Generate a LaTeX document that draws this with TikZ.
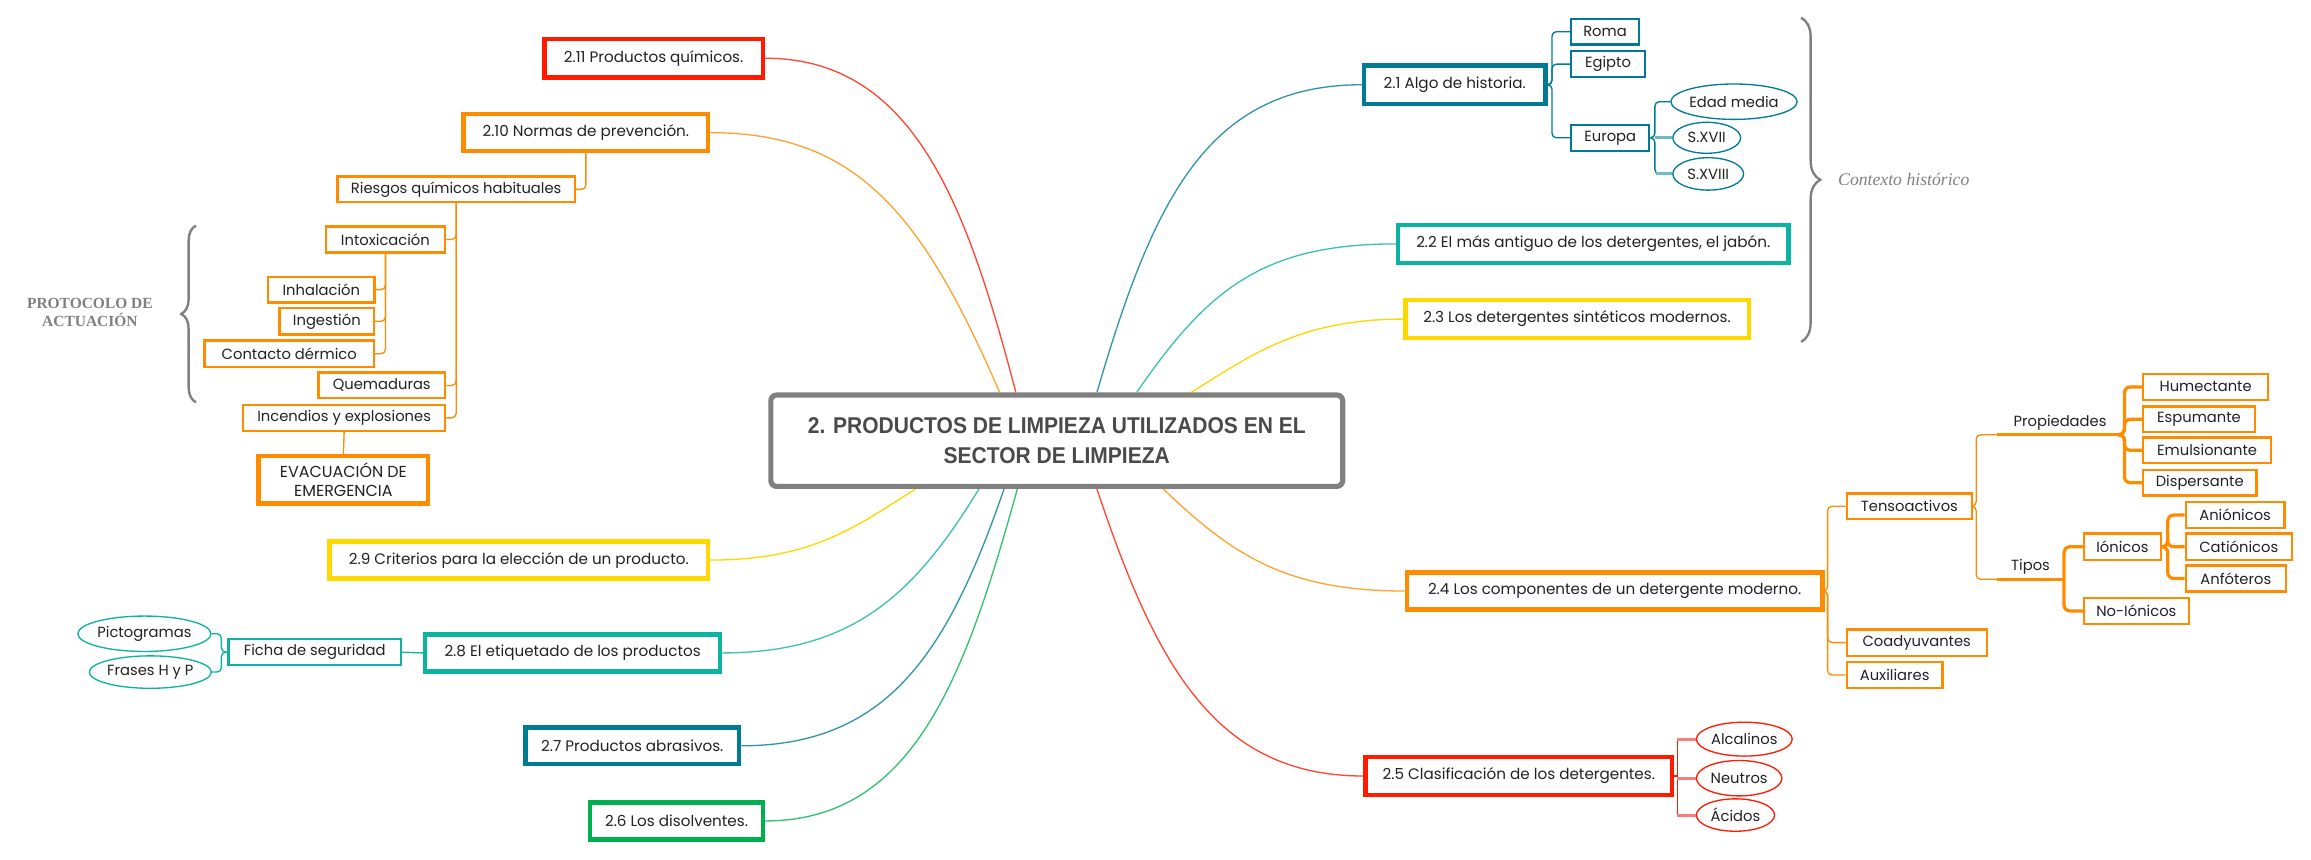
\documentclass[tikz,border=0pt]{standalone}
\usepackage{fontspec}
\setmainfont{Poppins}
\newfontfamily\rootfont{Liberation Sans}[FakeStretch=0.92]
\newfontfamily\serifx{Liberation Serif}
\usetikzlibrary{decorations.pathreplacing,shapes.geometric,backgrounds}
\definecolor{cred}{HTML}{FF1A00}
\definecolor{cora}{HTML}{FF8C00}
\definecolor{cyel}{HTML}{FFD800}
\definecolor{cteal}{HTML}{0BB3A0}
\definecolor{cblue}{HTML}{007B93}
\definecolor{cgreen}{HTML}{00B050}
\definecolor{cgray}{HTML}{808080}
\definecolor{ctext}{HTML}{222222}
\definecolor{croot}{HTML}{4A4A4A}
\definecolor{csalmon}{HTML}{F47F7F}
\definecolor{clblue}{HTML}{6FB9C8}
\begin{document}
\begin{tikzpicture}[x=1pt,y=-1pt,
  txt/.style={text=ctext, font=\fontsize{10.3}{12}\selectfont, inner sep=0pt, align=center},
  mainbox/.style={txt, draw=#1, line width=3pt, fill=white},
  subbox/.style={txt, draw=#1, line width=1.6pt, fill=white, font=\fontsize{10}{11}\selectfont},
  ovalbox/.style={txt, draw=#1, line width=0.9pt, ellipse, fill=white, font=\fontsize{10}{11}\selectfont},
  curve/.style={draw=#1, line width=0.9pt},
  elbow/.style={draw=#1, line width=0.9pt, rounded corners=3pt},
  thickelbow/.style={draw=#1, line width=2.2pt, rounded corners=4pt},
  bracex/.style={draw=cgray, line width=1.6pt, decorate, decoration={brace, amplitude=#1}}
]
\useasboundingbox (0,0) rectangle (1568,583);

% ---------- root ----------
\node[draw=cgray, line width=3.5pt, rounded corners=4pt, fill=white,
      minimum width=388pt, minimum height=62pt, inner sep=0pt, align=center,
      text=croot, font=\rootfont\bfseries\fontsize{15.5}{20}\selectfont] (root) at (717,299)
      {2. PRODUCTOS DE LIMPIEZA UTILIZADOS EN EL\\SECTOR DE LIMPIEZA};

% ---------- main branches ----------
\node[mainbox=cred, minimum width=148pt, minimum height=26pt] (b11) at (443.5,39.5) {2.11 Productos químicos.};
\node[mainbox=cora, minimum width=166pt, minimum height=25pt] (b10) at (397.5,90) {2.10 Normas de prevención.};
\node[mainbox=cyel, minimum width=257pt, minimum height=25pt] (b9) at (352,380) {2.9 Criterios para la elección de un producto.};
\node[mainbox=cteal, minimum width=200pt, minimum height=25pt] (b8) at (388.5,443) {2.8 El etiquetado de los productos};
\node[mainbox=cblue, minimum width=145pt, minimum height=25pt] (b7) at (429,506) {2.7 Productos abrasivos.};
\node[mainbox=cgreen, minimum width=117pt, minimum height=25pt] (b6) at (459,557) {2.6 Los disolventes.};
\node[mainbox=cblue, minimum width=123pt, minimum height=26pt] (b1) at (987,57.5) {2.1 Algo de historia.};
\node[mainbox=cteal, minimum width=265pt, minimum height=26pt] (b2) at (1081,165.5) {2.2 El más antiguo de los detergentes, el jabón.};
\node[mainbox=cyel, minimum width=233pt, minimum height=26pt] (b3) at (1070,216.5) {2.3 Los detergentes sintéticos modernos.};
\node[mainbox=cora, minimum width=282pt, minimum height=25pt] (b4) at (1095.5,401) {2.4 Los componentes de un detergente moderno.};
\node[mainbox=cred, minimum width=208pt, minimum height=26pt] (b5) at (1030.5,526.5) {2.5 Clasificación de los detergentes.};

% ---------- left sub topics ----------
\node[subbox=cora, minimum width=161pt, minimum height=17.5pt] (riesgos) at (309.5,128.5) {Riesgos químicos habituales};
\node[subbox=cora, minimum width=81pt, minimum height=17.5pt] (intox) at (261.5,162.5) {Intoxicación};
\node[subbox=cora, minimum width=72pt, minimum height=17.5pt] (inhal) at (218,196.5) {Inhalación};
\node[subbox=cora, minimum width=64pt, minimum height=18pt] (ingest) at (221.75,218) {Ingestión};
\node[subbox=cora, minimum width=115pt, minimum height=18pt] (contacto) at (196.25,240) {Contacto dérmico};
\node[subbox=cora, minimum width=86pt, minimum height=17.5pt] (quem) at (259,261.5) {Quemaduras};
\node[subbox=cora, minimum width=137pt, minimum height=17.5pt] (incend) at (233.5,283.5) {Incendios y explosiones};
\node[mainbox=cora, minimum width=115pt, minimum height=32pt, font=\fontsize{10.8}{13}\selectfont] (evac) at (233,325.5) {EVACUACIÓN DE\\EMERGENCIA};
\node[subbox=cteal, minimum width=117pt, minimum height=17.5pt] (ficha) at (213.5,442.5) {Ficha de seguridad};
\node[ovalbox=cteal, minimum width=86pt, minimum height=24pt] (picto) at (98,430) {Pictogramas};
\node[ovalbox=cteal, minimum width=77pt, minimum height=22pt] (frases) at (102,456) {Frases H y P};

% ---------- right sub topics ----------
\node[subbox=cblue, minimum width=46pt, minimum height=17.5pt] (roma) at (1089,21.5) {Roma};
\node[subbox=cblue, minimum width=50pt, minimum height=17.5pt] (egipto) at (1091,43.5) {Egipto};
\node[subbox=cblue, minimum width=53pt, minimum height=17.5pt] (europa) at (1092.5,93.5) {Europa};
\node[ovalbox=cblue, minimum width=83pt, minimum height=24pt] (edad) at (1176.5,69) {Edad media};
\node[ovalbox=cblue, minimum width=46pt, minimum height=21pt] (sxvii) at (1158,93.5) {S.XVII};
\node[ovalbox=cblue, minimum width=48pt, minimum height=22pt] (sxviii) at (1159,118) {S.XVIII};

\node[subbox=cora, minimum width=85pt, minimum height=17.5pt] (tenso) at (1295.5,343.5) {Tensoactivos};
\node[subbox=cora, minimum width=95pt, minimum height=18pt] (coad) at (1300.5,436) {Coadyuvantes};
\node[subbox=cora, minimum width=65pt, minimum height=17.5pt] (aux) at (1285.5,458) {Auxiliares};
\node[txt, font=\fontsize{10}{11}\selectfont, anchor=south west, minimum width=85pt, minimum height=16pt] (prop) at (1355,295) {Propiedades};
\node[txt, font=\fontsize{10}{11}\selectfont, anchor=south west, minimum width=45pt, minimum height=16pt] (tipos) at (1355,393) {Tipos};
\node[subbox=cora, minimum width=85pt, minimum height=17.5pt] (humect) at (1496.5,262.5) {Humectante};
\node[subbox=cora, minimum width=76pt, minimum height=17.5pt] (espum) at (1492,284.5) {Espumante};
\node[subbox=cora, minimum width=87pt, minimum height=17.5pt] (emuls) at (1497.5,305.5) {Emulsionante};
\node[subbox=cora, minimum width=77pt, minimum height=17.5pt] (disper) at (1492.5,327.5) {Dispersante};
\node[subbox=cora, minimum width=52pt, minimum height=18pt] (ionicos) at (1440,371) {Iónicos};
\node[subbox=cora, minimum width=71pt, minimum height=17.5pt] (noion) at (1449.5,414.5) {No-Iónicos};
\node[subbox=cora, minimum width=67pt, minimum height=17.5pt] (anion) at (1516.5,349.5) {Aniónicos};
\node[subbox=cora, minimum width=72pt, minimum height=18pt] (cation) at (1519,371) {Catiónicos};
\node[subbox=cora, minimum width=68pt, minimum height=17.5pt] (anfot) at (1517,392.5) {Anfóteros};

\node[ovalbox=cred, minimum width=65pt, minimum height=23pt] (alcal) at (1183.5,501.5) {Alcalinos};
\node[ovalbox=cred, minimum width=58pt, minimum height=24pt] (neutros) at (1180,528) {Neutros};
\node[ovalbox=cred, minimum width=53pt, minimum height=22pt] (acidos) at (1177.5,553) {Ácidos};

% ---------- annotations ----------
\node[text=cgray, align=center, inner sep=0pt, font=\serifx\bfseries\fontsize{10.5}{12.5}\selectfont] (prot) at (61,212) {PROTOCOLO DE\\ACTUACIÓN};
\node[text=cgray, anchor=west, inner sep=0pt, font=\serifx\itshape\fontsize{12}{14}\selectfont] (ctx) at (1247,122) {Contexto histórico};
\coordinate (lbtop) at (133,153);
\coordinate (lbbot) at (133,273);
\coordinate (rbtop) at (1222,12);
\coordinate (rbbot) at (1222,232);

% ---------- connectors (behind) ----------
\begin{scope}[on background layer]
\fill[white] (0,0) rectangle (1568,583);
\draw[bracex=10pt] (lbbot) -- (lbtop);
\draw[bracex=13pt] (rbtop) -- (rbbot);

\coordinate (e10) at ([xshift=157pt]root.north west);
\coordinate (e11) at ([xshift=168pt]root.north west);
\coordinate (e1) at ([xshift=223pt]root.north west);
\coordinate (e2) at ([xshift=250pt]root.north west);
\coordinate (e3) at ([xshift=287pt]root.north west);
\coordinate (s9) at ([xshift=100pt]root.south west);
\coordinate (s8) at ([xshift=143pt]root.south west);
\coordinate (s7) at ([xshift=160pt]root.south west);
\coordinate (s6) at ([xshift=169pt]root.south west);
\coordinate (s5) at ([xshift=223pt]root.south west);
\coordinate (s4) at ([xshift=268pt]root.south west);

\draw[curve=cred!80] (b11.east) .. controls +(100,0) and +(-34,-130) .. (e11);
\draw[curve=cora!80] (b10.east) .. controls +(100,0) and +(-52,-120) .. (e10);
\draw[curve=cblue!80] (b1.west) .. controls +(-105,0) and +(38,-130) .. (e1);
\draw[curve=cteal!80] (b2.west) .. controls +(-90,0) and +(48,-70) .. (e2);
\draw[curve=cyel] (b3.west) .. controls +(-70,0) and +(40,-25) .. (e3);
\draw[curve=cyel] (b9.east) .. controls +(70,0) and +(-40,25) .. (s9);
\draw[curve=cteal!80] (b8.east) .. controls +(90,0) and +(-43,70) .. (s8);
\draw[curve=cblue!80] (b7.east) .. controls +(100,0) and +(-38,110) .. (s7);
\draw[curve=cgreen!80] (b6.east) .. controls +(100,0) and +(-36,130) .. (s6);
\draw[curve=cred!80] (b5.west) .. controls +(-100,0) and +(40,120) .. (s5);
\draw[curve=cora!80] (b4.west) .. controls +(-80,0) and +(47,45) .. (s4);

% left groups
\draw[elbow=cora] (b10.south) |- (riesgos.east);
\draw[elbow=cora] (riesgos.south) |- (intox.east);
\draw[elbow=cora] (riesgos.south) |- (quem.east);
\draw[elbow=cora] (riesgos.south) |- (incend.east);
\draw[elbow=cora] (intox.south) |- (inhal.east);
\draw[elbow=cora] (intox.south) |- (ingest.east);
\draw[elbow=cora] (intox.south) |- (contacto.east);
\draw[elbow=cora] (incend.south) -- (evac.north);
\draw[elbow=cteal] (ficha.east) -- (b8.west);
\coordinate (jf) at ([xshift=-4pt]ficha.west);
\draw[elbow=cteal] (ficha.west) -- (jf) |- (picto.east);
\draw[elbow=cteal] (ficha.west) -- (jf) |- (frases.east);

% right groups
\coordinate (j1) at ([xshift=3pt]b1.east);
\draw[elbow=cblue] (b1.east) -- (j1) |- (roma.west);
\draw[elbow=cblue] (b1.east) -- (j1) |- (egipto.west);
\draw[elbow=cblue] (b1.east) -- (j1) |- (europa.west);
\coordinate (je) at ([xshift=3pt]europa.east);
\draw[elbow=cblue] (europa.east) -- (je) |- (edad.west);
\draw[elbow=cblue] (europa.east) -- (je) |- (sxviii.west);
\draw[draw=clblue, line width=2pt] (je |- sxvii.west) -- (sxvii.west);
\draw[draw=clblue, line width=2pt] ([xshift=1pt]je |- sxviii.west) -- (sxviii.west);

\coordinate (j4) at ([xshift=2pt]b4.east);
\draw[elbow=cora] (b4.east) -- (j4) |- (tenso.west);
\draw[elbow=cora] (b4.east) -- (j4) |- (coad.west);
\draw[elbow=cora] (b4.east) -- (j4) |- (aux.west);
\coordinate (jt) at ([xshift=2pt]tenso.east);
\draw[elbow=cora] (tenso.east) -- (jt) |- (prop.south west);
\draw[elbow=cora] (tenso.east) -- (jt) |- (tipos.south west);
\draw[draw=cora, line width=2.2pt] (prop.south west) -- (prop.south east);
\draw[draw=cora, line width=2.2pt] (tipos.south west) -- (tipos.south east);
\coordinate (jp) at ([xshift=1pt]prop.south east);
\draw[thickelbow=cora] (prop.south east) -- (jp) |- (humect.west);
\draw[thickelbow=cora] (prop.south east) -- (jp) |- (espum.west);
\draw[thickelbow=cora] (prop.south east) -- (jp) |- (emuls.west);
\draw[thickelbow=cora] (prop.south east) -- (jp) |- (disper.west);
\coordinate (jq) at (tipos.south east);
\draw[thickelbow=cora] (jq) |- (ionicos.west);
\draw[thickelbow=cora] (jq) |- (noion.west);
\coordinate (ji) at ([xshift=4pt]ionicos.east);
\draw[thickelbow=cora] (ionicos.east) -- (ji) |- (anion.west);
\draw[thickelbow=cora] (ionicos.east) -- (ji) |- (cation.west);
\draw[thickelbow=cora] (ionicos.east) -- (ji) |- (anfot.west);

\coordinate (j5) at ([xshift=2pt]b5.east);
\draw[draw=cred, line width=0.9pt] (b5.east) -- (j5);
\draw[draw=cred, line width=0.9pt] (j5 |- alcal.west) -- (j5 |- acidos.west);
\draw[draw=csalmon, line width=2pt] (j5 |- alcal.west) -- (alcal.west);
\draw[draw=csalmon, line width=2pt] (j5 |- neutros.west) -- (neutros.west);
\draw[draw=csalmon, line width=2pt] (j5 |- acidos.west) -- (acidos.west);
\end{scope}
\end{tikzpicture}
\end{document}
